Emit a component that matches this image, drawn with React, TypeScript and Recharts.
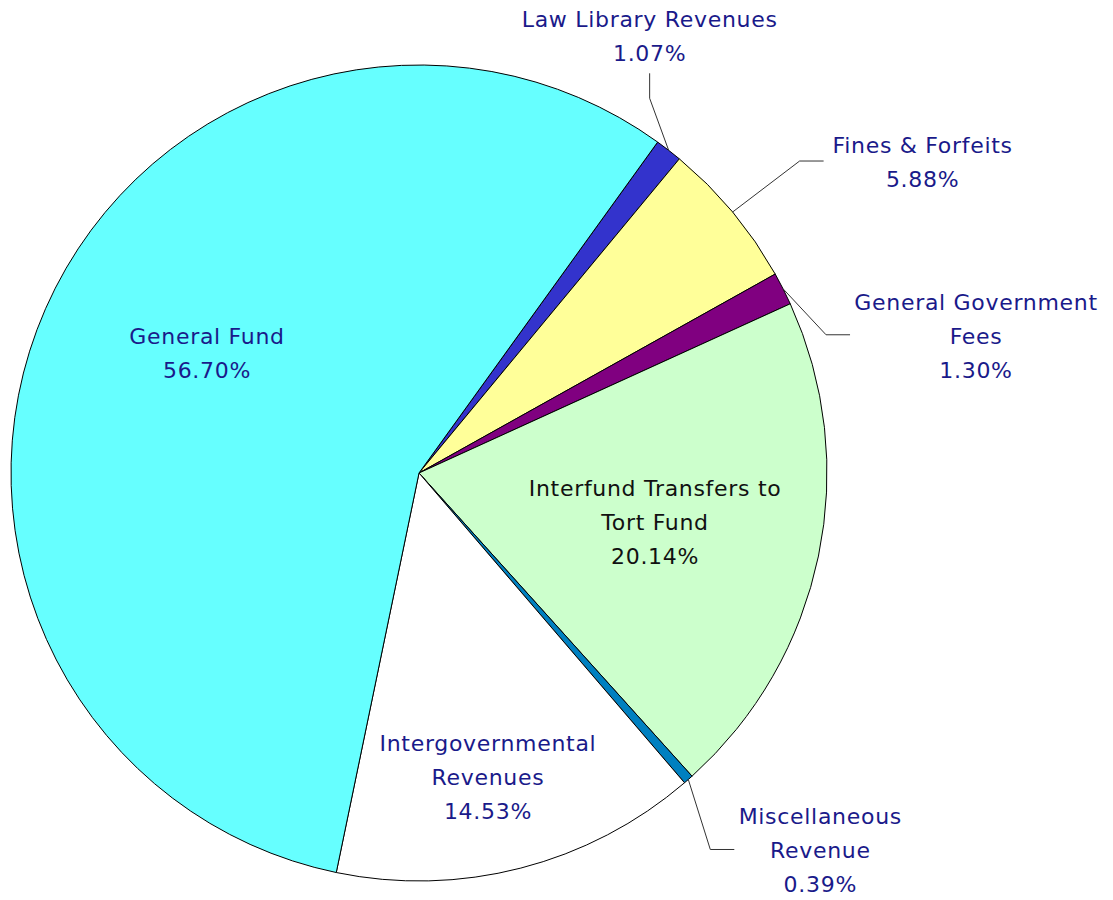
import { PieChart, Pie, Cell } from "recharts"

const categories = [
    'Law Library Revenues',
    'Fines & Forfeits',
    'General Government Fees',
    'Interfund Transfers to Tort Fund',
    'Miscellaneous Revenue',
    'Intergovernmental Revenues',
    'General Fund',
];
const shares = [1.07, 5.88, 1.30, 20.14, 0.39, 14.53, 56.70];
const labelLines = [
    ['Law Library Revenues'],
    ['Fines & Forfeits'],
    ['General Government', 'Fees'],
    ['Interfund Transfers to', 'Tort Fund'],
    ['Miscellaneous', 'Revenue'],
    ['Intergovernmental', 'Revenues'],
    ['General Fund'],
];

const colors = ['#3333CC', '#FFFF99', '#800080', '#CCFFCC', '#0080C0', '#FFFFFF', '#66FFFF'];

// label placement: inside labels use a radius factor (+ angle nudge), outside ones a leader line
const labelLayout: any[] = [
    { type: 'out', elbow: [-19, -52], end: [0, -25], text: [0, -37] },
    { type: 'out', elbow: [67, -51], end: [24, 0], text: [99, 1] },
    { type: 'out', elbow: [43, 46], end: [24, 0], text: [126, 2] },
    { type: 'in', r: 0.591, da: 0, color: '#111111' },
    { type: 'out', elbow: [22, 70], end: [24, 0], text: [86, 1] },
    { type: 'in', r: 0.766, da: -1.7 },
    { type: 'in', r: 0.597, da: -5.75 },
];

const data = categories.map((name, i) => ({ name, value: shares[i] }));

const RADIAN = Math.PI / 180;
const LINE_H = 34;
const TEXT_COLOR = '#1A1A8A';

const TextBlock = ({ x, y, lines, color }: { x: number; y: number; lines: string[]; color: string }) => {
    const y0 = y - ((lines.length - 1) * LINE_H) / 2;
    return (
        <text x={x} y={y0} textAnchor="middle" fill={color} fontSize={22} letterSpacing={0.7}
            fontFamily="'DejaVu Sans', sans-serif">
            {lines.map((l, i) => (
                <tspan key={i} x={x} y={y0 + i * LINE_H} dominantBaseline="central">{l}</tspan>
            ))}
        </text>
    );
};

const renderLabel = (props: any) => {
    const { cx, cy, midAngle, outerRadius, index, value } = props;
    const lay = labelLayout[index];
    const lines = [...labelLines[index], `${Number(value).toFixed(2)}%`];

    if (lay.type === 'in') {
        const a = (midAngle + lay.da) * RADIAN;
        const x = cx + outerRadius * lay.r * Math.cos(-a);
        const y = cy + outerRadius * lay.r * Math.sin(-a);
        return <TextBlock x={x} y={y} lines={lines} color={lay.color || TEXT_COLOR} />;
    }

    const sx = cx + outerRadius * Math.cos(-midAngle * RADIAN);
    const sy = cy + outerRadius * Math.sin(-midAngle * RADIAN);
    const mx = sx + lay.elbow[0];
    const my = sy + lay.elbow[1];
    const ex = mx + lay.end[0];
    const ey = my + lay.end[1];
    return (
        <g>
            <polyline points={`${sx},${sy} ${mx},${my} ${ex},${ey}`} fill="none" stroke="#333333" strokeWidth={1} />
            <TextBlock x={ex + lay.text[0]} y={ey + lay.text[1]} lines={lines} color={TEXT_COLOR} />
        </g>
    );
};

export default function App() {
    return (
        <div style={{ position: 'absolute', left: 0, top: 0, background: '#ffffff' }}>
            <PieChart width={1113} height={900} margin={{ top: 0, right: 0, bottom: 0, left: 0 }}>
                <Pie
                    data={data}
                    dataKey="value"
                    nameKey="name"
                    cx={419}
                    cy={473}
                    outerRadius={408}
                    startAngle={54.2}
                    endAngle={54.2 - 360}
                    stroke="#000000"
                    strokeWidth={1}
                    label={renderLabel}
                    labelLine={false}
                    isAnimationActive={false}
                >
                    {data.map((entry, index) => (
                        <Cell key={`cell-${index}`} fill={colors[index]} />
                    ))}
                </Pie>
            </PieChart>
        </div>
    )
}
